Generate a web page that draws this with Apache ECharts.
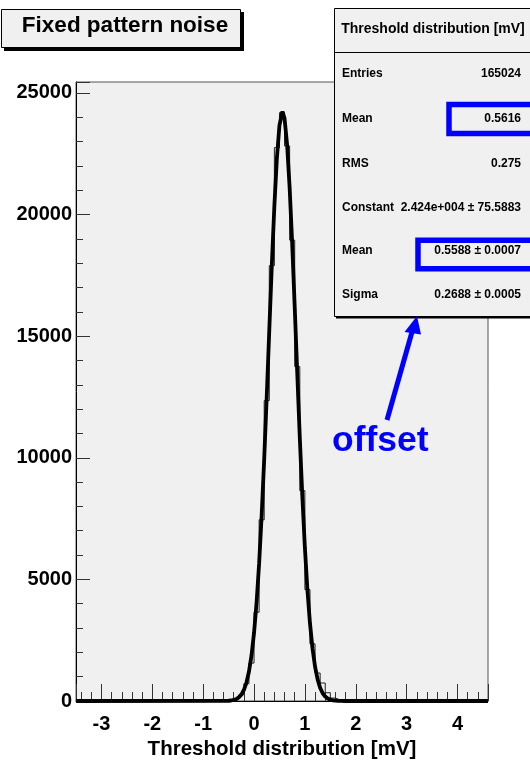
<!DOCTYPE html>
<html>
<head>
<meta charset="utf-8">
<script src="https://cdn.jsdelivr.net/npm/echarts@6/dist/echarts.min.js"></script>
<style>
  html, body { margin: 0; padding: 0; background: #ffffff; }
  #chart { width: 530px; height: 760px; }
</style>
</head>
<body>
<div id="chart"></div>
<script>
// Threshold histogram: 81 bins of 0.1 mV from -3.5 to 4.6 mV
const xRange = [-3.5, 4.6];
const yRange = [0, 25450];
const binLow = -3.5;
const binWidth = 0.1;
const binCounts = [
  0, 0, 0, 0, 0, 0, 0, 0, 0, 0,
  0, 0, 0, 0, 0, 0, 0, 0, 0, 0,
  0, 0, 0, 0, 0, 0, 0, 0, 0,
  4, 22, 78, 255, 710, 1560, 3650, 7450, 12350, 17900,
  22750, 24190, 22820, 18950, 13750, 8650, 4580, 2350, 1150, 740,
  340, 120, 40, 12, 3,
  0, 0, 0, 0, 0, 0, 0, 0, 0, 0,
  0, 0, 0, 0, 0, 0, 0, 0, 0, 0,
  0, 0, 0, 0, 0, 0, 0
];

// Gaussian fit curve samples
const fitX = [-3.5, -0.6, -0.55, -0.5, -0.45, -0.4, -0.35, -0.3, -0.25, -0.2,
  -0.15, -0.1, -0.05, 0, 0.05, 0.1, 0.15, 0.2, 0.25, 0.3,
  0.35, 0.4, 0.45, 0.5, 0.5588, 0.6, 0.65, 0.7, 0.75, 0.8,
  0.85, 0.9, 0.95, 1.0, 1.05, 1.1, 1.15, 1.2, 1.25, 1.3,
  1.35, 1.4, 1.45, 1.5, 1.55, 1.6, 1.65, 1.7, 1.8, 4.6];
const fitY = [0, 2, 5, 10, 21, 42, 80, 147, 262, 451,
  749, 1203, 1864, 2793, 4041, 5648, 7626, 9946, 12530, 15249,
  17928, 20359, 22335, 23668, 24240, 23957, 22883, 21116, 18823, 16207,
  13480, 10830, 8407, 6302, 4564, 3195, 2157, 1409, 889, 541,
  319, 181, 100, 53, 27, 13, 6, 3, 1, 0];

// Tick labels
const xTickLabels = [-3, -2, -1, 0, 1, 2, 3, 4];
const yTickLabels = [0, 5000, 10000, 15000, 20000, 25000];

// Statistics box contents
const statsTitle = 'Threshold distribution [mV]';
const statNames = ['Entries', 'Mean', 'RMS', 'Constant', 'Mean', 'Sigma'];
const statValues = ['165024', '0.5616', '0.275', '2.424e+004 \u00b1 75.5883', '0.5588 \u00b1 0.0007', '0.2688 \u00b1 0.0005'];

const titleText = 'Fixed pattern noise';
const xTitle = 'Threshold distribution [mV]';
const noteText = 'offset';

// step outline of the histogram (points at bin low edges)
const histPoints = binCounts.map((c, i) => [binLow + i * binWidth, c]);
histPoints.push([binLow + binCounts.length * binWidth, binCounts[binCounts.length - 1]]);

const fitPoints = fitX.map((x, i) => [x, fitY[i]]);

const FONT = '"Liberation Sans", Arial, Helvetica, sans-serif';
const BLUE = '#0000ff';

const chart = echarts.init(document.getElementById('chart'), null, { renderer: 'canvas' });

const statRowsY = [74, 118.5, 164, 207.5, 251, 295];
const statGraphics = [];
statNames.forEach((n, i) => {
  statGraphics.push({
    type: 'text', z: 102, x: 342, y: statRowsY[i],
    style: { text: n, font: 'bold 12px ' + FONT, fill: '#000', align: 'left', verticalAlign: 'middle' }
  });
  statGraphics.push({
    type: 'text', z: 102, x: 521, y: statRowsY[i],
    style: { text: statValues[i], font: 'bold 12px ' + FONT, fill: '#000', align: 'right', verticalAlign: 'middle' }
  });
});

chart.setOption({
  animation: false,
  backgroundColor: '#ffffff',
  grid: {
    left: 76, top: 82, width: 412, height: 619,
    outerBoundsMode: 'none', containLabel: false,
    show: true, backgroundColor: '#f0f0f0', borderColor: '#555', borderWidth: 1
  },
  xAxis: [
    {
      type: 'value', position: 'bottom', min: xRange[0], max: xRange[1],
      minInterval: 1, maxInterval: 1,
      name: xTitle, nameLocation: 'middle', nameGap: 38,
      nameTextStyle: { fontFamily: FONT, fontWeight: 'bold', fontSize: 20.5, color: '#000' },
      axisLine: { show: true, onZero: false, lineStyle: { color: '#000', width: 1 } },
      axisTick: { show: true, inside: true, length: 17, lineStyle: { color: '#333', width: 1 } },
      axisLabel: {
        margin: 13, fontFamily: FONT, fontWeight: 'bold', fontSize: 20, color: '#000',
        formatter: v => (xTickLabels.indexOf(Math.round(v * 1000) / 1000) >= 0 ? String(Math.round(v)) : '')
      },
      splitLine: { show: false }
    },
    {
      type: 'value', position: 'bottom', min: xRange[0], max: xRange[1],
      minInterval: 0.2, maxInterval: 0.2,
      axisLine: { show: false, onZero: false },
      axisTick: { show: true, inside: true, length: 9, lineStyle: { color: '#333', width: 1 } },
      axisLabel: { show: false },
      splitLine: { show: false }
    }
  ],
  yAxis: [
    {
      type: 'value', position: 'left', min: yRange[0], max: yRange[1],
      minInterval: 5000, maxInterval: 5000,
      axisLine: { show: true, onZero: false, lineStyle: { color: '#000', width: 1 } },
      axisTick: { show: true, inside: true, length: 14, lineStyle: { color: '#333', width: 1 } },
      axisLabel: {
        margin: 4, fontFamily: FONT, fontWeight: 'bold', fontSize: 20, color: '#000',
        formatter: v => (yTickLabels.indexOf(Math.round(v)) >= 0 ? String(Math.round(v)) : '')
      },
      splitLine: { show: false }
    },
    {
      type: 'value', position: 'left', min: yRange[0], max: yRange[1],
      minInterval: 1000, maxInterval: 1000,
      axisLine: { show: false, onZero: false },
      axisTick: { show: true, inside: true, length: 7, lineStyle: { color: '#333', width: 1 } },
      axisLabel: { show: false },
      splitLine: { show: false }
    }
  ],
  series: [
    {
      name: 'histogram', type: 'line', xAxisIndex: 0, yAxisIndex: 0,
      step: 'end', symbol: 'none', data: histPoints,
      lineStyle: { color: '#222', width: 1 }, z: 3
    },
    {
      name: 'fit', type: 'line', xAxisIndex: 0, yAxisIndex: 0,
      symbol: 'none', data: fitPoints, clip: false,
      lineStyle: { color: '#000', width: 3.8 }, z: 4
    }
  ],
  graphic: [
    // title box with drop shadow
    { type: 'rect', z: 100, shape: { x: 4, y: 12, width: 240, height: 39 }, style: { fill: '#000' } },
    { type: 'rect', z: 101, shape: { x: 1.5, y: 9.5, width: 239, height: 38 }, style: { fill: '#f0f0f0', stroke: '#000', lineWidth: 1 } },
    { type: 'text', z: 102, x: 125, y: 26, style: { text: titleText, font: 'bold 22.5px ' + FONT, fill: '#000', align: 'center', verticalAlign: 'middle' } },
    // statistics box
    { type: 'rect', z: 100, shape: { x: 336, y: 10.5, width: 200, height: 308 }, style: { fill: '#000' } },
    { type: 'rect', z: 101, shape: { x: 334.5, y: 8.5, width: 200, height: 308 }, style: { fill: '#f0f0f0', stroke: '#000', lineWidth: 1 } },
    { type: 'line', z: 102, shape: { x1: 334.5, y1: 52.5, x2: 535, y2: 52.5 }, style: { stroke: '#000', lineWidth: 1 } },
    { type: 'text', z: 102, x: 433, y: 29.5, style: { text: statsTitle, font: 'bold 14px ' + FONT, fill: '#000', align: 'center', verticalAlign: 'middle' } },
    ...statGraphics,
    // highlight frames around the two mean values
    { type: 'rect', z: 103, shape: { x: 449, y: 104.5, width: 100, height: 29 }, style: { fill: 'none', stroke: BLUE, lineWidth: 5.5 } },
    { type: 'rect', z: 103, shape: { x: 418, y: 240.3, width: 130, height: 28.4 }, style: { fill: 'none', stroke: BLUE, lineWidth: 5.5 } },
    // arrow pointing at the stats box
    { type: 'line', z: 103, shape: { x1: 387, y1: 420, x2: 412, y2: 332 }, style: { stroke: BLUE, lineWidth: 5 } },
    { type: 'polygon', z: 103, shape: { points: [[417, 316], [404.5, 332], [421, 334.5]] }, style: { fill: BLUE } },
    { type: 'text', z: 103, x: 332, y: 441, style: { text: noteText, font: 'bold 35.5px ' + FONT, fill: BLUE, align: 'left', verticalAlign: 'middle' } }
  ]
});
</script>
</body>
</html>
